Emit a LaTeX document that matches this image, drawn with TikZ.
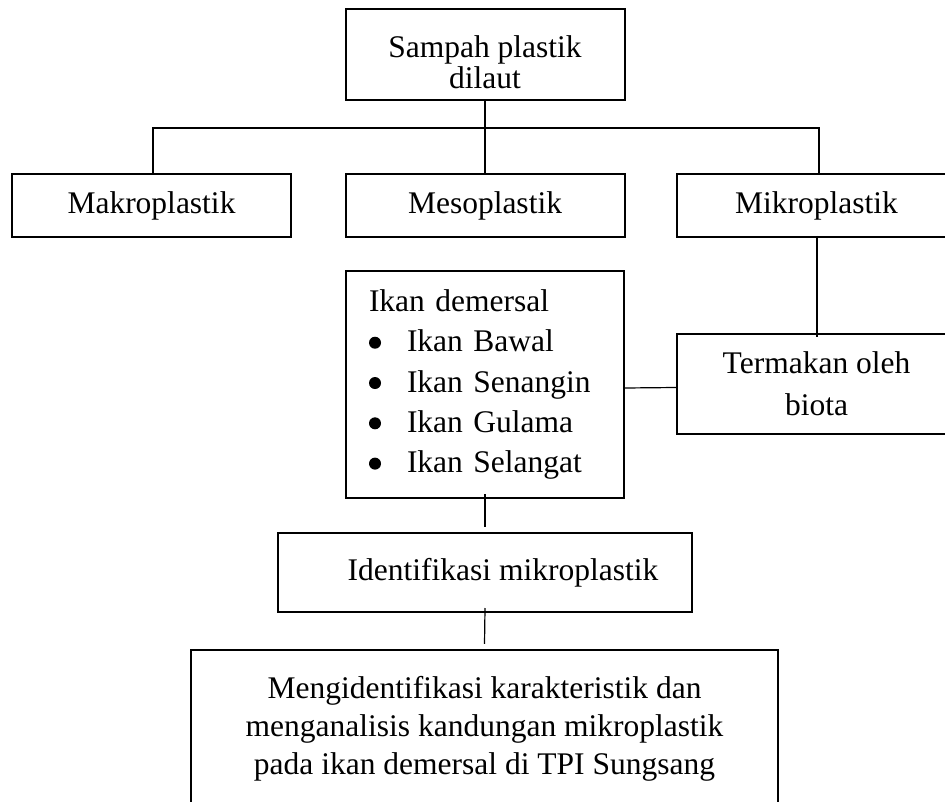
\documentclass[tikz,border=0pt]{standalone}
\usepackage{fontspec}
\setmainfont{Liberation Serif}
\usepackage{tikz}

\newcommand{\butir}{\makebox[19pt][l]{\tikz[baseline=-4.5pt]\fill (3pt,0pt) circle (3pt);}}

\begin{document}
\begin{tikzpicture}[x=0.5pt,y=-0.5pt,
                kotak/.style={draw, line width=1pt, inner sep=0pt, align=center,
                    minimum width=139.5pt, minimum height=31.5pt,
                    font=\fontsize{15.75pt}{20pt}\selectfont},
                garis/.style={line width=0.6pt}]
                \path[use as bounding box] (0,0) rectangle (945,801);
                \clip (0,0) rectangle (945,801);
                \node[kotak, minimum height=45.5pt, font=\fontsize{15.75pt}{15.5pt}\selectfont] (sampah) at (485,54.5) {\rule{0pt}{18.75pt}Sampah plastik\\dilaut};
                \node[kotak] (makro) at (151.5,205.5) {Makroplastik};
                \node[kotak] (meso) at (485,205.5) {Mesoplastik};
                \node[kotak] (mikro) at (816.5,205.5) {Mikroplastik};
                \node[kotak, align=left, text width=116pt, inner xsep=11.5pt, minimum width=139pt, minimum height=113.5pt,
                    font=\fontsize{15.75pt}{20.15pt}\selectfont] (ikan) at (485,384.5) {Ikan demersal\\
                    \butir Ikan Bawal\\
                    \butir Ikan Senangin\\
                    \butir Ikan Gulama\\
                    \butir Ikan Selangat};
                \node[kotak, minimum height=50pt, font=\fontsize{15.75pt}{21pt}\selectfont] (termakan) at (816.5,384) {Termakan oleh\\biota};
                \node[kotak, minimum width=207pt, minimum height=39.5pt] (ident) at (485,572.5) {\hspace*{18pt}Identifikasi mikroplastik};
                \node[kotak, minimum width=293.5pt, minimum height=78.65pt, font=\fontsize{15.75pt}{19pt}\selectfont] (hasil) at (484.5,728.6) {Mengidentifikasi karakteristik dan\\menganalisis kandungan mikroplastik\\pada ikan demersal di TPI Sungsang};
                \coordinate (cabang) at (485,128);
                \draw[garis, line width=0.8pt] (sampah.south) -- (meso.north);
                \draw[garis] ([xshift=0.75pt]makro.north) |- (cabang) -| ([xshift=1.25pt]mikro.north);
                \draw[garis, line width=1pt] ([yshift=1pt]mikro.south) -- ([yshift=-2pt]termakan.north);
                \draw[garis] ([yshift=-1.75pt]ikan.east) -- ([yshift=-1.75pt]termakan.west);
                \draw[garis] ([yshift=2.5pt]ikan.south) -- ([yshift=2.5pt]ident.north);
                \draw[garis] ([yshift=2.5pt]ident.south) -- ([yshift=2.5pt]hasil.north);
            \end{tikzpicture}
\end{document}
